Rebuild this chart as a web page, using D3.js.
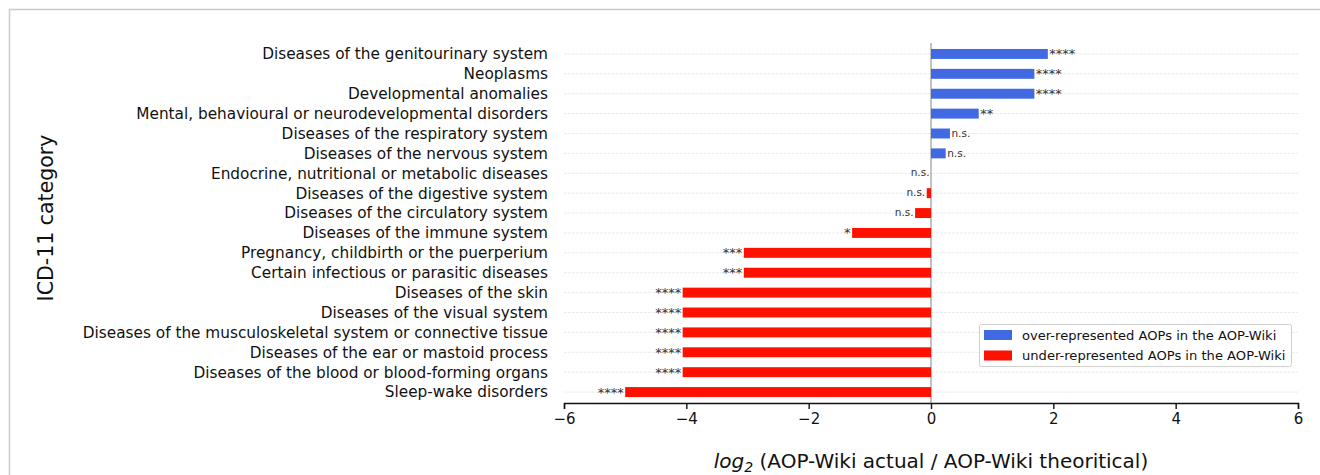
<!DOCTYPE html>
<html><head><meta charset="utf-8">
<script src="https://cdn.jsdelivr.net/npm/d3@7"></script>
<style>body{margin:0;background:#fff;font-family:"DejaVu Sans",sans-serif;}</style>
</head><body><svg id="c" width="1320" height="475"></svg>
<script>
const categories = ["Diseases of the genitourinary system","Neoplasms","Developmental anomalies","Mental, behavioural or neurodevelopmental disorders","Diseases of the respiratory system","Diseases of the nervous system","Endocrine, nutritional or metabolic diseases","Diseases of the digestive system","Diseases of the circulatory system","Diseases of the immune system","Pregnancy, childbirth or the puerperium","Certain infectious or parasitic diseases","Diseases of the skin","Diseases of the visual system","Diseases of the musculoskeletal system or connective tissue","Diseases of the ear or mastoid process","Diseases of the blood or blood-forming organs","Sleep-wake disorders"];
const values = [1.91,1.69,1.69,0.78,0.31,0.24,0,-0.07,-0.26,-1.29,-3.06,-3.06,-4.06,-4.06,-4.06,-4.06,-4.06,-5.0];
const significance = ["****","****","****","**","n.s.","n.s.","n.s.","n.s.","n.s.","*","***","***","****","****","****","****","****","****"];
const xTicks = [-6,-4,-2,0,2,4,6];
const legendLabels = ["over-represented AOPs in the AOP-Wiki","under-represented AOPs in the AOP-Wiki"];
const colors = {pos:"#4169e1", neg:"#ff1100"};

const svg = d3.select("#c");
svg.append("path").attr("d","M9.5,475 V9.5 H1320").attr("fill","none").attr("stroke","#cccccc").attr("stroke-width",1.5);

const x = d3.scaleLinear().domain([-6,6]).range([564,1298]);
const y = d3.scaleBand().domain(categories).range([44,402]).paddingInner(0.5).paddingOuter(0.25);

svg.append("g").selectAll("line").data(categories).join("line")
  .attr("x1",564).attr("x2",1298)
  .attr("y1",d=>y(d)+y.bandwidth()/2).attr("y2",d=>y(d)+y.bandwidth()/2)
  .attr("stroke","#ebebeb").attr("stroke-width",1).attr("stroke-dasharray","3,1");

svg.append("line").attr("x1",x(0)).attr("x2",x(0)).attr("y1",43).attr("y2",403)
  .attr("stroke","#999").attr("stroke-width",1.2);

svg.append("g").selectAll("rect").data(values).join("rect")
  .attr("x",d=>x(Math.min(0,d))).attr("width",d=>Math.abs(x(d)-x(0)))
  .attr("y",(d,i)=>y(categories[i])).attr("height",y.bandwidth())
  .attr("fill",d=>d>=0?colors.pos:colors.neg);

svg.append("g").selectAll("text").data(values).join("text")
  .attr("x",(d,i)=> d>0 ? x(d)+1.5 : x(d)-1.5)
  .attr("y",(d,i)=>y(categories[i])+y.bandwidth()/2+ (significance[i].includes("*")?4.5:3.2))
  .attr("text-anchor",d=>d>0?"start":"end")
  .attr("font-size",(d,i)=>significance[i].includes("*")?13:10.5).attr("fill","#333")
  .text((d,i)=>significance[i]);

svg.append("g").selectAll("text").data(categories).join("text")
  .attr("x",548).attr("y",d=>y(d)+y.bandwidth()/2).attr("dy","0.35em")
  .attr("text-anchor","end").attr("font-size",15.3).attr("fill","#111").text(d=>d);

const xa = svg.append("g").attr("transform","translate(0,403)")
  .call(d3.axisBottom(x).tickValues(xTicks).tickSize(6).tickPadding(4).tickFormat(d=>d<0?"\u2212"+Math.abs(d):d));
xa.select(".domain").attr("stroke","#111").attr("stroke-width",1.4);
xa.selectAll(".tick line").attr("stroke","#111").attr("stroke-width",1.4);
xa.selectAll(".tick text").attr("font-size",15).attr("fill","#111").attr("font-family","DejaVu Sans");

const xt = svg.append("text").attr("x",x(0)).attr("y",468).attr("text-anchor","middle").attr("font-size",20).attr("fill","#111");
xt.append("tspan").attr("font-style","italic").text("log");
xt.append("tspan").attr("font-style","italic").attr("font-size",14).attr("dy",4).text("2");
xt.append("tspan").attr("dy",-4).text(" (AOP-Wiki actual / AOP-Wiki theoritical)");

svg.append("text").attr("transform","translate(53,218) rotate(-90)").attr("text-anchor","middle")
  .attr("font-size",20.5).attr("fill","#111").text("ICD-11 category");

const lg = svg.append("g");
lg.append("rect").attr("x",979.5).attr("y",324.5).attr("width",312).attr("height",42).attr("rx",2)
  .attr("fill","#fff").attr("fill-opacity",0.85).attr("stroke","#d0d0d0");
legendLabels.forEach((t,i)=>{
  lg.append("rect").attr("x",984).attr("y",330+i*20.5).attr("width",28).attr("height",10).attr("fill",i==0?colors.pos:colors.neg);
  lg.append("text").attr("x",1022).attr("y",335+i*20.5).attr("dy","0.35em").attr("font-size",13.1).attr("fill","#111").text(t);
});
</script></body></html>
